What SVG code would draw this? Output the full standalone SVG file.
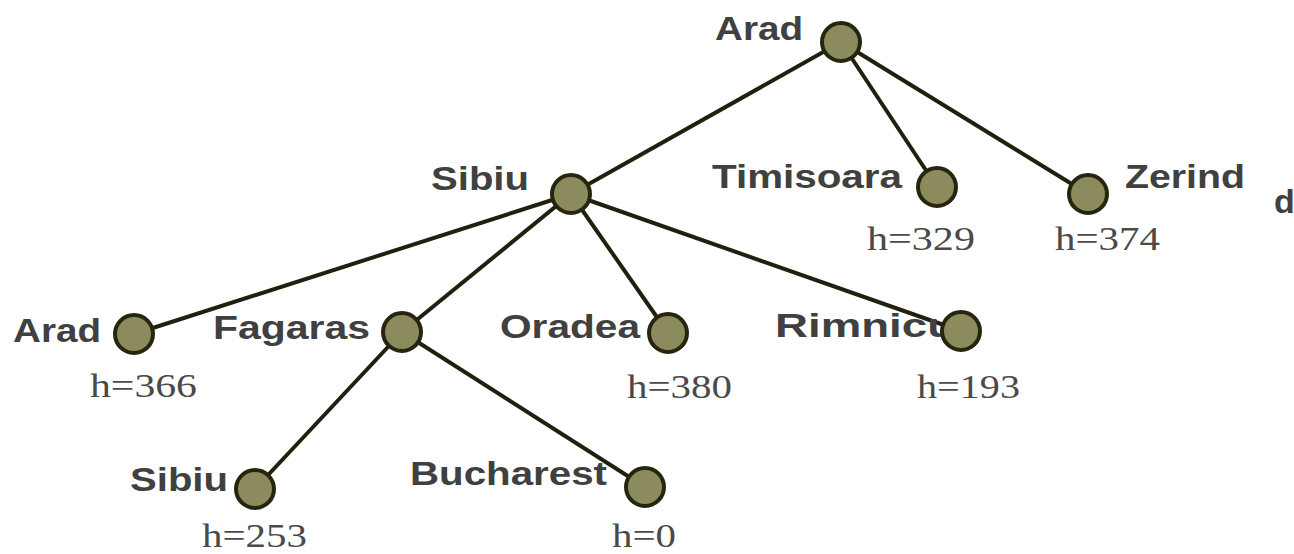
<svg xmlns="http://www.w3.org/2000/svg" width="1294" height="554" viewBox="0 0 1294 554">
<style>
.edge{stroke:#20200f;stroke-width:4;fill:none}
.node{fill:#8b8b5e;stroke:#26260f;stroke-width:4}
.lbl{font-family:"Liberation Sans",Arial,sans-serif;font-weight:bold;font-size:34px;fill:#404040}
.h{font-family:"Liberation Serif","Times New Roman",serif;font-size:34px;fill:#4a4a4a}
</style>
<rect width="1294" height="554" fill="#ffffff"/>
<g id="connectors">
<line class="edge" x1="841" y1="42" x2="571" y2="194"/>
<line class="edge" x1="841" y1="42" x2="937" y2="187"/>
<line class="edge" x1="841" y1="42" x2="1088" y2="194"/>
<line class="edge" x1="571" y1="194" x2="134" y2="334"/>
<line class="edge" x1="571" y1="194" x2="402" y2="332"/>
<line class="edge" x1="571" y1="194" x2="668" y2="333"/>
<line class="edge" x1="571" y1="194" x2="961" y2="331"/>
<line class="edge" x1="402" y1="332" x2="255" y2="489"/>
<line class="edge" x1="402" y1="332" x2="645" y2="487"/>
</g>
<g id="n-arad-root">
<text class="lbl" x="715" y="40" textLength="88" lengthAdjust="spacingAndGlyphs">Arad</text>
<circle class="node" cx="841" cy="42" r="19"/>
</g>
<g id="n-sibiu">
<text class="lbl" x="431" y="190" textLength="98" lengthAdjust="spacingAndGlyphs">Sibiu</text>
<circle class="node" cx="571" cy="194" r="19"/>
</g>
<g id="n-timisoara">
<text class="lbl" x="712" y="188" textLength="190" lengthAdjust="spacingAndGlyphs">Timisoara</text>
<circle class="node" cx="937" cy="187" r="19"/>
<text class="h" x="867" y="250" textLength="108" lengthAdjust="spacingAndGlyphs">h=329</text>
</g>
<g id="n-zerind">
<text class="lbl" x="1125" y="188" textLength="120" lengthAdjust="spacingAndGlyphs">Zerind</text>
<circle class="node" cx="1088" cy="194" r="19"/>
<text class="h" x="1055" y="250" textLength="105" lengthAdjust="spacingAndGlyphs">h=374</text>
</g>
<g id="n-d">
<text class="lbl" x="1274" y="213">d</text>
</g>
<g id="n-arad-leaf">
<text class="lbl" x="13" y="342" textLength="88" lengthAdjust="spacingAndGlyphs">Arad</text>
<circle class="node" cx="134" cy="334" r="19"/>
<text class="h" x="90" y="397" textLength="107" lengthAdjust="spacingAndGlyphs">h=366</text>
</g>
<g id="n-fagaras">
<text class="lbl" x="213" y="339" textLength="157" lengthAdjust="spacingAndGlyphs">Fagaras</text>
<circle class="node" cx="402" cy="332" r="19"/>
</g>
<g id="n-oradea">
<text class="lbl" x="500" y="338" textLength="140" lengthAdjust="spacingAndGlyphs">Oradea</text>
<circle class="node" cx="668" cy="333" r="19"/>
<text class="h" x="627" y="398" textLength="105" lengthAdjust="spacingAndGlyphs">h=380</text>
</g>
<g id="n-rimnicu">
<text class="lbl" x="775" y="337" textLength="180" lengthAdjust="spacingAndGlyphs">Rimnicu</text>
<circle class="node" cx="961" cy="331" r="19"/>
<text class="h" x="917" y="398" textLength="103" lengthAdjust="spacingAndGlyphs">h=193</text>
</g>
<g id="n-sibiu-leaf">
<text class="lbl" x="130" y="491" textLength="98" lengthAdjust="spacingAndGlyphs">Sibiu</text>
<circle class="node" cx="255" cy="489" r="19"/>
<text class="h" x="202" y="547" textLength="105" lengthAdjust="spacingAndGlyphs">h=253</text>
</g>
<g id="n-bucharest">
<text class="lbl" x="410" y="485" textLength="197" lengthAdjust="spacingAndGlyphs">Bucharest</text>
<circle class="node" cx="645" cy="487" r="19"/>
<text class="h" x="612" y="547" textLength="64" lengthAdjust="spacingAndGlyphs">h=0</text>
</g>
</svg>
